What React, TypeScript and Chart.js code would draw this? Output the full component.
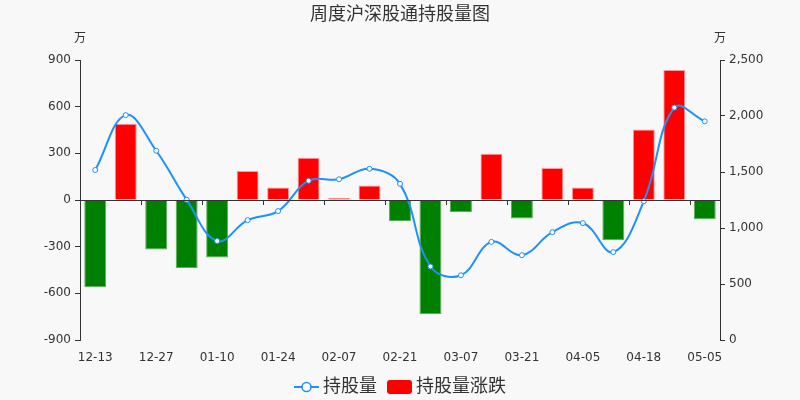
import { useEffect, useRef } from "react";
import Chart from "chart.js/auto";

// weekly dates (every other one is shown on the axis)
const dates = [
  "12-13", "12-20", "12-27", "01-03", "01-10", "01-17", "01-24", "01-31",
  "02-07", "02-14", "02-21", "02-28", "03-07", "03-14", "03-21", "03-28",
  "04-05", "04-11", "04-18", "04-25", "05-05",
];
// 持股量 (万)
const holdings = [
  1518, 2008, 1690, 1253, 884, 1070, 1151, 1422, 1435, 1529, 1394,
  656, 578, 876, 757, 963, 1044, 785, 1239, 2075, 1952,
];
// 持股量涨跌 (万)
const changes = [
  -561, 490, -318, -437, -369, 186, 81, 271, 13, 94, -135,
  -733, -78, 298, -119, 206, 81, -259, 454, 836, -123,
];
const leftTicks = { min: -900, max: 900, step: 300 };
const rightTicks = { min: 0, max: 2500, step: 500 };

const FONT = '"DejaVu Sans", "Noto Sans CJK SC", sans-serif';
const TEXT = "#333";
const BLUE = "#1e90ff";

function lineIcon() {
  const c = document.createElement("canvas");
  c.width = 30;
  c.height = 14;
  const ctx = c.getContext("2d")!;
  ctx.strokeStyle = BLUE;
  ctx.lineWidth = 2;
  ctx.beginPath();
  ctx.moveTo(5, 7);
  ctx.lineTo(30, 7);
  ctx.stroke();
  ctx.beginPath();
  ctx.arc(17.5, 7, 4.5, 0, Math.PI * 2);
  ctx.fillStyle = "#fff";
  ctx.fill();
  ctx.lineWidth = 1.5;
  ctx.stroke();
  return c;
}

function rectIcon() {
  const c = document.createElement("canvas");
  c.width = 30;
  c.height = 14;
  const ctx = c.getContext("2d")!;
  ctx.fillStyle = "#ff0000";
  ctx.beginPath();
  ctx.roundRect(5, 0, 25, 14, 3);
  ctx.fill();
  return c;
}

// zero line with boundary ticks + the unit labels
const extras = {
  id: "extras",
  afterDatasetsDraw(chart: any) {
    const { ctx, chartArea, scales } = chart;
    const y0 = scales.y.getPixelForValue(0);
    const x = scales.x;
    ctx.save();
    ctx.strokeStyle = TEXT;
    ctx.lineWidth = 1;
    ctx.beginPath();
    ctx.moveTo(chartArea.left, Math.round(y0) + 0.5);
    ctx.lineTo(chartArea.right, Math.round(y0) + 0.5);
    const w = (chartArea.right - chartArea.left) / dates.length;
    for (let k = 2; k < dates.length; k += 2) {
      const px = Math.round(x.getPixelForValue(k) - w / 2) + 0.5;
      ctx.moveTo(px, y0);
      ctx.lineTo(px, y0 + 5);
    }
    ctx.stroke();
    ctx.fillStyle = TEXT;
    ctx.font = `12px ${FONT}`;
    ctx.textAlign = "center";
    ctx.textBaseline = "middle";
    ctx.fillText("万", chartArea.left, chartArea.top - 21);
    ctx.fillText("万", chartArea.right, chartArea.top - 21);
    ctx.restore();
  },
};

export default function App() {
  const canvasRef = useRef<HTMLCanvasElement>(null);

  useEffect(() => {
    if (!canvasRef.current) return;
    const icons = [lineIcon(), rectIcon()];

    const chart = new Chart(canvasRef.current, {
      type: "bar",
      data: {
        labels: dates,
        datasets: [
          {
            type: "line",
            label: "持股量",
            data: holdings,
            yAxisID: "y1",
            order: 0,
            borderColor: BLUE,
            borderWidth: 2,
            tension: 0.4,
            pointRadius: 2.5,
            pointBorderWidth: 1,
            pointBackgroundColor: "#fff",
            pointBorderColor: BLUE,
          },
          {
            type: "bar",
            label: "持股量涨跌",
            data: changes,
            yAxisID: "y",
            order: 1,
            backgroundColor: changes.map((v) => (v >= 0 ? "#ff0000" : "#008000")),
            borderColor: changes.map((v) => (v >= 0 ? "#ff9c9c" : "#5aad5a")),
            borderWidth: 1,
            barPercentage: 0.9,
            categoryPercentage: 0.8,
          },
        ] as any,
      },
      options: {
        responsive: false,
        animation: false,
        events: [],
        layout: { padding: { left: 0, right: 0, top: 0, bottom: -6 } },
        plugins: {
          title: {
            display: true,
            text: "周度沪深股通持股量图",
            color: TEXT,
            font: { family: FONT, size: 18, weight: "normal" },
            padding: { top: 5, bottom: 33.4 },
          },
          legend: {
            position: "bottom",
            labels: {
              usePointStyle: true,
              pointStyleWidth: 20,
              padding: 10,
              color: TEXT,
              font: { family: FONT, size: 18 },
              generateLabels: (c: any) => {
                const items = Chart.defaults.plugins.legend.labels.generateLabels(c);
                return items.map((item: any, i: number) => ({
                  ...item,
                  pointStyle: icons[i],
                  fontColor: TEXT,
                }));
              },
            },
          },
          tooltip: { enabled: false },
        },
        scales: {
          x: {
            grid: { display: false },
            border: { display: false },
            ticks: {
              autoSkip: false,
              maxRotation: 0,
              padding: 3,
              color: TEXT,
              font: { family: FONT, size: 12 },
              callback: (_v: any, i: number) => (i % 2 === 0 ? dates[i] : ""),
            },
            afterFit: (s: any) => {
              s.height = 28;
            },
          },
          y: {
            position: "left",
            min: leftTicks.min,
            max: leftTicks.max,
            grid: { drawOnChartArea: false, tickLength: 5, color: TEXT },
            border: { display: true, color: TEXT },
            ticks: {
              stepSize: leftTicks.step,
              padding: 4,
              color: TEXT,
              font: { family: FONT, size: 12 },
            },
            afterFit: (s: any) => {
              s.width = 80;
            },
          },
          y1: {
            position: "right",
            min: rightTicks.min,
            max: rightTicks.max,
            grid: { drawOnChartArea: false, tickLength: 5, color: TEXT },
            border: { display: true, color: TEXT },
            ticks: {
              stepSize: rightTicks.step,
              padding: 4,
              color: TEXT,
              font: { family: FONT, size: 12 },
            },
            afterFit: (s: any) => {
              s.width = 80;
            },
          },
        },
      },
      plugins: [extras],
    });

    return () => chart.destroy();
  }, []);

  return (
    <div style={{ position: "fixed", left: 0, top: 0, width: 800, height: 400, background: "#f8f8f8" }}>
      <canvas ref={canvasRef} width={800} height={400} />
    </div>
  );
}
